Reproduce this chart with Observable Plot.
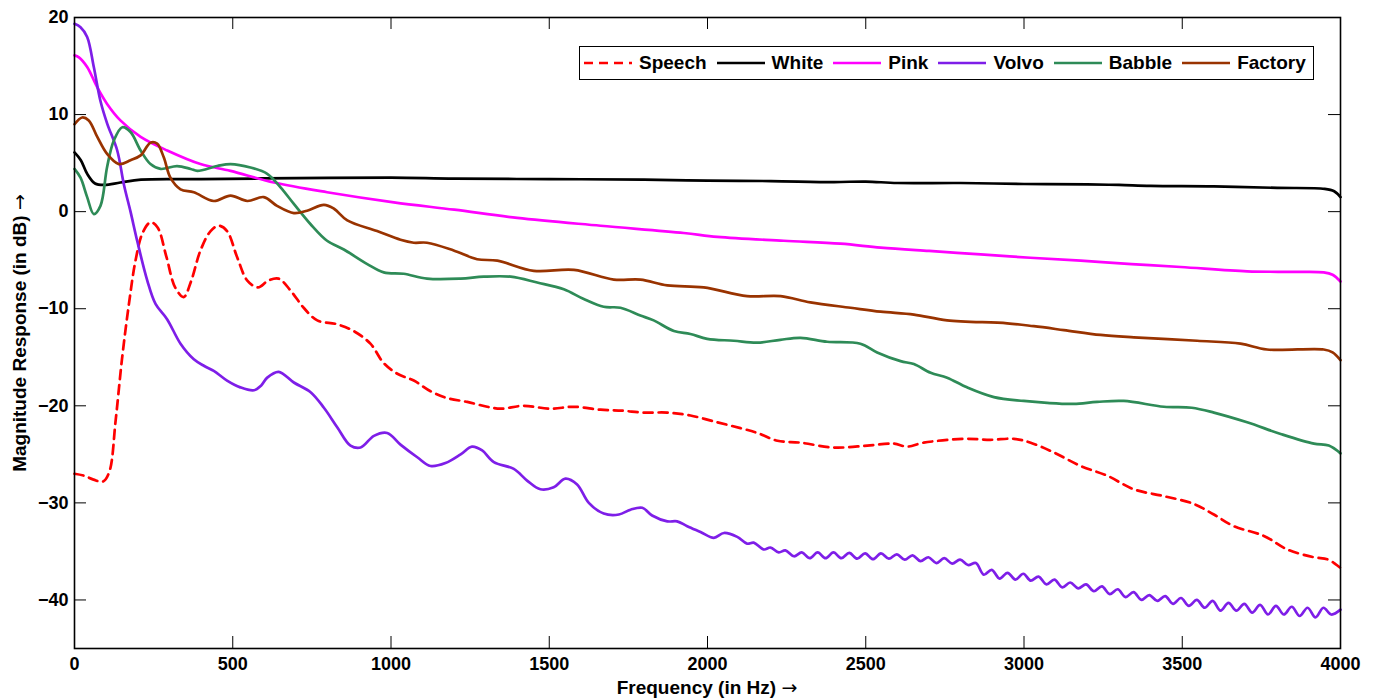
<!DOCTYPE html>
<html>
<head>
<meta charset="utf-8">
<script src="https://cdn.jsdelivr.net/npm/d3@7"></script>
<script src="https://cdn.jsdelivr.net/npm/@observablehq/plot@0.6"></script>
<style>
  html, body { margin: 0; padding: 0; background: #fff; }
  #wrap { position: relative; width: 1374px; height: 698px; font-family: "Liberation Sans", Arial, sans-serif; color: #000; }
  #legend { position: absolute; left: 579px; top: 46px; width: 733px; height: 32px; border: 1.5px solid #000; background: #fff;
    display: flex; align-items: center; font-weight: bold; font-size: 19px; box-sizing: content-box; }
  #legend .item { display: flex; align-items: center; }
  #legend svg { display: block; }
  #legend span { margin-left: 7px; margin-right: 10px; white-space: nowrap; }
  .title { position: absolute; font-weight: bold; font-size: 19px; line-height: 22px; white-space: nowrap; }
  .arrow { font-family: "DejaVu Sans", sans-serif; font-weight: normal; }
  #xtitle { left: 74px; width: 1266px; top: 676px; text-align: center; }
  #ytitle { left: 19px; top: 333px; transform: translate(-50%, -50%) rotate(-90deg); }
</style>
</head>
<body>
<div id="wrap">
  <div id="chart"></div>
  <div id="legend"></div>
  <div class="title" id="xtitle">Frequency (in Hz) <span class="arrow">→</span></div>
  <div class="title" id="ytitle">Magnitude Response (in dB) <span class="arrow">→</span></div>
</div>
<script>
const xTicks = [0, 500, 1000, 1500, 2000, 2500, 3000, 3500, 4000];
const yTicks = [20, 10, 0, -10, -20, -30, -40];
const seriesNames = ["Speech", "White", "Pink", "Volvo", "Babble", "Factory"];
const seriesColors = ["#ff0000", "#000000", "#ff00ff", "#7e1ee8", "#2e8b57", "#993300"];

const speech = [[0,-27.0],[30,-27.2],[60,-27.6],[90,-27.8],[110,-26.8],[130,-21.5],[150,-15.2],[172,-9.5],[193,-5.0],[215,-2.2],[240,-1.1],[262,-1.6],[290,-4.6],[318,-7.8],[345,-8.8],[368,-7.2],[398,-4.0],[430,-2.0],[456,-1.45],[482,-2.0],[514,-4.7],[546,-7.1],[580,-7.8],[612,-7.1],[645,-6.9],[682,-8.1],[724,-9.9],[767,-11.2],[830,-11.6],[882,-12.3],[935,-13.6],[977,-15.6],[1020,-16.7],[1072,-17.4],[1125,-18.5],[1177,-19.2],[1241,-19.6],[1304,-20.1],[1346,-20.3],[1419,-20.0],[1504,-20.3],[1577,-20.1],[1662,-20.4],[1730,-20.5],[1799,-20.7],[1873,-20.7],[1946,-21.0],[2031,-21.7],[2104,-22.3],[2158,-22.8],[2221,-23.6],[2294,-23.8],[2399,-24.3],[2505,-24.1],[2588,-23.9],[2631,-24.2],[2683,-23.8],[2810,-23.4],[2894,-23.5],[2968,-23.4],[3021,-23.8],[3094,-24.8],[3179,-26.2],[3263,-27.2],[3347,-28.6],[3441,-29.3],[3536,-30.1],[3600,-31.2],[3663,-32.4],[3758,-33.4],[3832,-34.8],[3916,-35.6],[3958,-35.8],[3984,-36.3],[4000,-36.7]];

const white = [[0,6.1],[20,5.3],[40,3.9],[65,2.9],[95,2.75],[145,3.0],[210,3.3],[400,3.35],[700,3.45],[1000,3.5],[1200,3.4],[1500,3.35],[1800,3.3],[2000,3.2],[2200,3.15],[2400,3.05],[2500,3.1],[2600,2.95],[2800,2.95],[3000,2.85],[3200,2.8],[3300,2.75],[3400,2.65],[3600,2.6],[3800,2.45],[3950,2.35],[3980,2.1],[4000,1.5]];

const pink = [[0,16.1],[14,15.9],[40,14.9],[72,12.8],[103,11.1],[145,9.4],[209,7.7],[293,6.3],[398,4.9],[493,4.2],[630,3.0],[798,2.0],[1009,0.96],[1200,0.2],[1399,-0.65],[1662,-1.45],[1925,-2.2],[2031,-2.6],[2241,-3.0],[2420,-3.3],[2547,-3.7],[2700,-4.05],[2863,-4.4],[3020,-4.75],[3179,-5.05],[3340,-5.4],[3495,-5.7],[3705,-6.15],[3850,-6.2],[3947,-6.25],[3975,-6.5],[4000,-7.2]];

const volvo = [[0,19.35],[19,19.0],[40,18.0],[61,14.9],[82,11.4],[103,9.1],[135,6.3],[156,2.8],[177,0.0],[198,-3.0],[230,-7.1],[256,-9.5],[293,-11.1],[335,-13.6],[377,-15.2],[410,-15.9],[440,-16.4],[482,-17.4],[524,-18.1],[567,-18.4],[590,-17.9],[609,-17.1],[645,-16.5],[693,-17.6],[746,-18.6],[788,-20.2],[830,-22.2],[872,-24.1],[904,-24.3],[946,-23.1],[988,-22.8],[1030,-24.0],[1083,-25.3],[1125,-26.2],[1172,-25.9],[1220,-25.0],[1256,-24.2],[1288,-24.6],[1325,-25.8],[1388,-26.5],[1430,-27.7],[1472,-28.6],[1514,-28.4],[1551,-27.5],[1588,-28.1],[1625,-30.0],[1672,-31.1],[1720,-31.2],[1757,-30.7],[1794,-30.5],[1825,-31.3],[1873,-31.9],[1904,-31.9],[1936,-32.4],[1978,-33.0],[2020,-33.6],[2052,-33.1],[2094,-33.5],[2125,-34.2],[2146,-34.1],[2178,-34.8],[2199,-34.6],[2225,-35.1],[2246,-34.9],[2273,-35.5],[2298,-35.1],[2323,-35.7],[2348,-35.1],[2373,-35.7],[2398,-35.1],[2423,-35.7],[2448,-35.15],[2473,-35.75],[2498,-35.2],[2523,-35.8],[2548,-35.2],[2573,-35.75],[2598,-35.3],[2623,-35.85],[2648,-35.4],[2673,-36.0],[2698,-35.6],[2723,-36.2],[2748,-35.7],[2773,-36.25],[2798,-35.85],[2823,-36.4],[2848,-36.2],[2873,-37.4],[2898,-36.9],[2923,-37.8],[2948,-37.2],[2973,-37.9],[2998,-37.3],[3021,-38.0],[3046,-37.6],[3071,-38.4],[3096,-37.9],[3121,-38.7],[3146,-38.2],[3171,-38.8],[3196,-38.4],[3221,-39.1],[3246,-38.6],[3271,-39.4],[3296,-38.9],[3321,-39.7],[3346,-39.2],[3371,-40.0],[3396,-39.5],[3421,-40.1],[3446,-39.6],[3471,-40.4],[3496,-39.8],[3521,-40.6],[3546,-40.0],[3571,-40.8],[3596,-40.1],[3621,-41.1],[3646,-40.3],[3671,-41.1],[3696,-40.4],[3721,-41.3],[3746,-40.5],[3771,-41.5],[3796,-40.6],[3821,-41.5],[3846,-40.7],[3871,-41.65],[3896,-40.8],[3921,-41.8],[3946,-40.8],[3971,-41.5],[4000,-41.0]];

const babble = [[0,4.4],[19,3.5],[40,1.5],[61,-0.25],[82,0.6],[103,4.6],[124,7.3],[151,8.7],[177,8.2],[209,6.3],[240,4.9],[272,4.4],[324,4.7],[367,4.4],[388,4.2],[451,4.7],[493,4.9],[556,4.55],[609,3.9],[651,2.5],[693,0.8],[746,-1.3],[798,-3.0],[851,-3.9],[925,-5.4],[977,-6.25],[1040,-6.4],[1114,-6.9],[1220,-6.9],[1293,-6.7],[1378,-6.7],[1462,-7.3],[1546,-8.0],[1609,-9.0],[1672,-9.8],[1725,-9.9],[1788,-10.7],[1830,-11.2],[1894,-12.3],[1946,-12.6],[1999,-13.1],[2083,-13.3],[2157,-13.5],[2230,-13.2],[2294,-13.0],[2378,-13.4],[2483,-13.6],[2536,-14.5],[2610,-15.4],[2652,-15.7],[2705,-16.6],[2757,-17.1],[2820,-18.1],[2905,-19.1],[2999,-19.5],[3073,-19.7],[3157,-19.8],[3231,-19.6],[3315,-19.5],[3442,-20.1],[3530,-20.2],[3600,-20.7],[3705,-21.7],[3811,-22.9],[3916,-23.9],[3963,-24.1],[4000,-24.9]];

const factory = [[0,9.0],[24,9.7],[45,9.4],[72,7.7],[103,5.95],[140,4.9],[177,5.3],[209,5.8],[240,7.1],[261,7.0],[282,5.6],[303,3.5],[335,2.3],[377,2.0],[440,1.1],[493,1.65],[546,1.1],[598,1.5],[640,0.6],[693,-0.15],[735,0.1],[788,0.7],[820,0.3],[862,-0.9],[956,-2.0],[1030,-2.9],[1072,-3.2],[1114,-3.2],[1198,-4.0],[1272,-4.9],[1336,-5.05],[1451,-6.1],[1578,-6.0],[1704,-7.0],[1788,-7.0],[1873,-7.6],[1988,-7.8],[2125,-8.7],[2231,-8.7],[2325,-9.35],[2452,-9.9],[2547,-10.3],[2652,-10.6],[2757,-11.2],[2947,-11.5],[3031,-11.8],[3126,-12.2],[3242,-12.7],[3347,-12.95],[3547,-13.3],[3684,-13.6],[3768,-14.2],[3947,-14.2],[3975,-14.5],[4000,-15.3]];

const seriesData = [speech, white, pink, volvo, babble, factory];

const W = 1374, H = 698, mL = 74, mR = 34, mT = 17, mB = 50;
const innerW = W - mL - mR, innerH = H - mT - mB, tickLen = 12;

const lineMarks = seriesData.map((pts, i) => Plot.line(pts, {
  x: d => d[0], y: d => d[1],
  stroke: seriesColors[i], strokeWidth: 2.7,
  strokeDasharray: i === 0 ? "9,6" : null,
  curve: "catmull-rom"
}));

const chart = Plot.plot({
  width: W, height: H,
  marginLeft: mL, marginRight: mR, marginTop: mT, marginBottom: mB,
  style: {fontFamily: "'Liberation Sans', Arial, sans-serif", fontSize: "18px", fontWeight: "bold", background: "#fff", color: "#000"},
  x: {domain: [0, 4000]},
  y: {domain: [-45, 20]},
  marks: [
    ...lineMarks,
    Plot.tickX(xTicks, {x: d => d, insetTop: innerH - tickLen, stroke: "#000", strokeWidth: 1}),
    Plot.tickX(xTicks, {x: d => d, insetBottom: innerH - tickLen, stroke: "#000", strokeWidth: 1}),
    Plot.tickY(yTicks, {y: d => d, insetRight: innerW - tickLen, stroke: "#000", strokeWidth: 1}),
    Plot.tickY(yTicks, {y: d => d, insetLeft: innerW - tickLen, stroke: "#000", strokeWidth: 1}),
    Plot.axisX(xTicks, {tickSize: 0, tickPadding: 9, tickFormat: d => String(d), label: null, fontSize: 18}),
    Plot.axisY(yTicks, {tickSize: 0, tickPadding: 6, label: null, fontSize: 18}),
    Plot.frame({stroke: "#000", strokeWidth: 1.6})
  ]
});
document.getElementById("chart").appendChild(chart);

const legend = document.getElementById("legend");
seriesNames.forEach((name, i) => {
  const item = document.createElement("div");
  item.className = "item";
  item.style.marginLeft = i === 0 ? "4px" : "0px";
  const dash = i === 0 ? ' stroke-dasharray="9,6"' : '';
  item.innerHTML = `<svg width="48" height="10"><line x1="0" y1="5" x2="48" y2="5" stroke="${seriesColors[i]}" stroke-width="2.7"${dash}/></svg><span>${name}</span>`;
  legend.appendChild(item);
});
</script>
</body>
</html>
